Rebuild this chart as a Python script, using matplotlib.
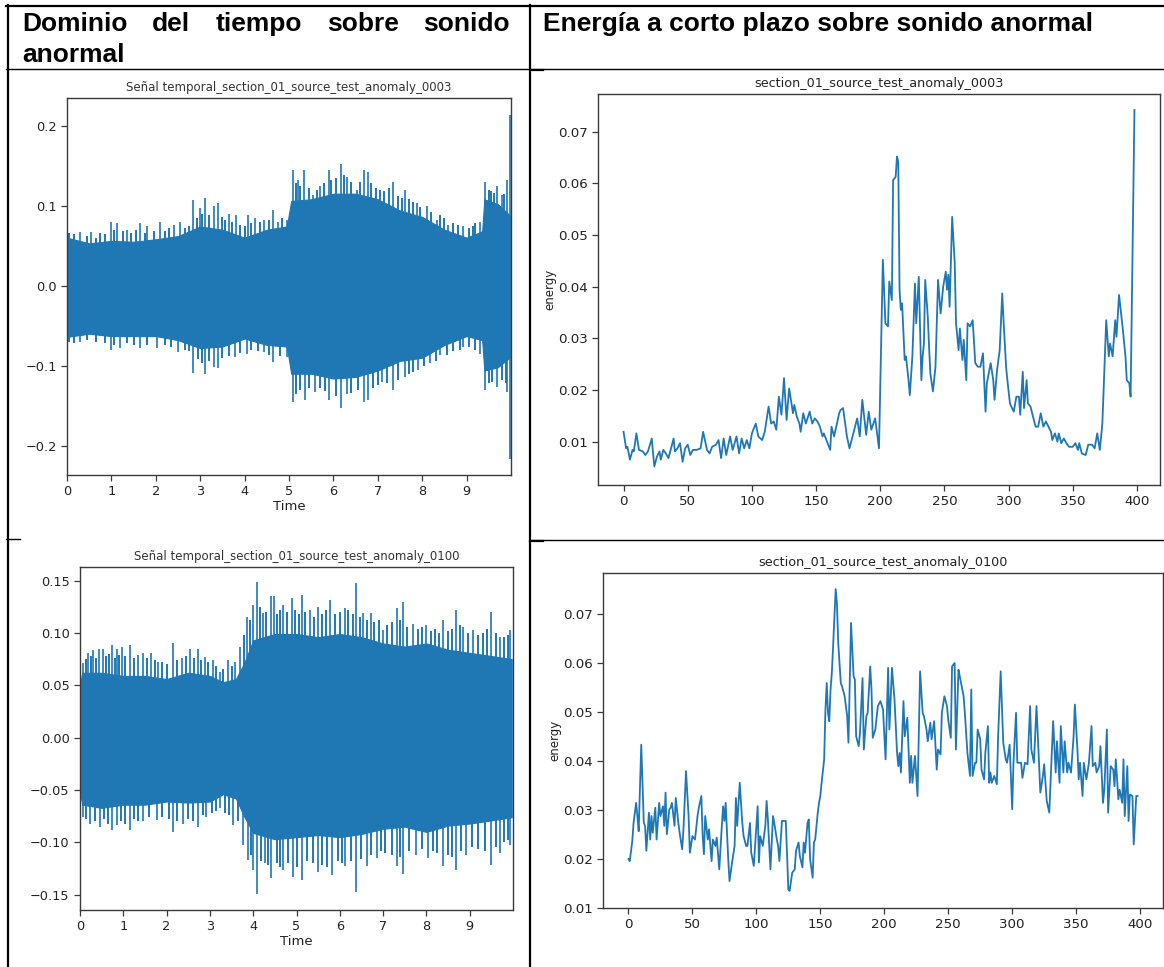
import matplotlib
matplotlib.use("Agg")
import matplotlib.pyplot as plt
from matplotlib.lines import Line2D

W, H = 1164, 967
BLUE = "#1f77b4"
SPINE = "#3a3a3a"

# ---------------- table headers ----------------
head_left_words = ["Dominio", "del", "tiempo", "sobre", "sonido"]
head_left_2 = "anormal"
head_right = "Energía a corto plazo sobre sonido anormal"

# ---------------- waveform 0003 ----------------
w1_title = "Señal temporal_section_01_source_test_anomaly_0003"
w1_env_t = [0, 0.5, 1, 1.5, 2, 2.5, 3, 3.5, 4, 4.5, 4.95, 5.05, 5.5, 6, 6.5, 7,
            7.5, 8, 8.5, 9, 9.35, 9.4, 9.7, 9.97]
w1_env_hi = [0.060, 0.053, 0.056, 0.055, 0.058, 0.062, 0.074, 0.070, 0.060, 0.070,
             0.074, 0.106, 0.108, 0.115, 0.115, 0.108, 0.094, 0.086, 0.070, 0.060,
             0.068, 0.108, 0.102, 0.088]
w1_env_lo = [-0.064, -0.060, -0.063, -0.063, -0.063, -0.068, -0.078, -0.076, -0.066,
             -0.074, -0.076, -0.110, -0.110, -0.116, -0.114, -0.106, -0.094, -0.090,
             -0.074, -0.063, -0.068, -0.106, -0.102, -0.090]
# tallest peaks
w1_up_t = [0.3, 0.53, 0.98, 1.13, 1.35, 1.64, 1.8, 2.09, 2.4, 2.55, 2.84, 3.0, 3.11,
           3.3, 3.41, 3.64, 3.81, 4.07, 4.24, 4.43, 4.65, 4.76, 4.95, 5.09, 5.21,
           5.34, 5.55, 5.69, 5.89, 6.17, 6.3, 6.53, 6.68, 6.79, 7.35, 7.61, 7.88,
           8.1, 8.33, 8.59, 8.93, 9.3, 9.41, 9.68, 9.79, 9.92, 9.97]
w1_up = [0.0675, 0.0675, 0.080, 0.078, 0.070, 0.078, 0.074, 0.080, 0.076, 0.080,
         0.107, 0.097, 0.109, 0.099, 0.103, 0.090, 0.088, 0.088, 0.084, 0.082,
         0.095, 0.080, 0.082, 0.145, 0.132, 0.145, 0.113, 0.124, 0.145, 0.152,
         0.136, 0.120, 0.145, 0.1425, 0.130, 0.120, 0.103, 0.100, 0.082, 0.076,
         0.074, 0.080, 0.130, 0.124, 0.113, 0.132, 0.213]
w1_dn_t = [0.3, 0.98, 1.2, 1.65, 2.03, 2.51, 2.84, 3.11, 3.3, 3.41, 3.79, 4.05, 4.43,
           4.65, 4.95, 5.09, 5.36, 5.59, 5.89, 6.17, 6.3, 6.68, 6.79, 7.09, 7.35,
           7.61, 7.91, 8.18, 8.4, 8.93, 9.3, 9.41, 9.68, 9.92, 9.97]
w1_dn = [-0.070, -0.080, -0.078, -0.078, -0.078, -0.0825, -0.109, -0.110, -0.101,
         -0.103, -0.089, -0.085, -0.0825, -0.095, -0.089, -0.145, -0.143, -0.1325,
         -0.143, -0.153, -0.135, -0.145, -0.143, -0.120, -0.130, -0.114, -0.105,
         -0.097, -0.087, -0.076, -0.085, -0.130, -0.126, -0.1325, -0.216]
# smaller peaks along the edge of the band
w1_up2_t = [0.05, 0.15, 0.45, 0.65, 0.75, 0.85, 1.05, 1.25, 1.45, 1.55, 1.75, 1.95,
            2.2, 2.3, 2.65, 2.75, 2.92, 3.05, 3.2, 3.5, 3.55, 3.72, 3.9, 4.0, 4.15,
            4.35, 4.55, 4.85, 5.15, 5.25, 5.45, 5.62, 5.78, 5.95, 6.05, 6.23, 6.4,
            6.6, 6.85, 6.95, 7.05, 7.15, 7.25, 7.45, 7.55, 7.7, 7.8, 7.95, 8.2, 8.4,
            8.5, 8.7, 8.8, 9.05, 9.15, 9.2, 9.5, 9.55, 9.62, 9.85]
w1_up2 = [0.066, 0.064, 0.062, 0.060, 0.066, 0.064, 0.070, 0.068, 0.066, 0.070,
          0.066, 0.068, 0.068, 0.072, 0.072, 0.074, 0.085, 0.090, 0.088, 0.086,
          0.082, 0.080, 0.076, 0.074, 0.078, 0.080, 0.082, 0.085, 0.128, 0.125,
          0.122, 0.120, 0.128, 0.132, 0.135, 0.138, 0.130, 0.130, 0.128, 0.122,
          0.120, 0.118, 0.122, 0.112, 0.110, 0.108, 0.104, 0.098, 0.092, 0.088,
          0.084, 0.078, 0.076, 0.072, 0.074, 0.078, 0.120, 0.118, 0.116, 0.115]
w1_dn2_t = [0.05, 0.15, 0.45, 0.65, 0.85, 1.05, 1.35, 1.5, 1.8, 2.2, 2.35, 2.65,
            2.75, 2.95, 3.05, 3.2, 3.5, 3.65, 3.9, 4.15, 4.3, 4.55, 4.8, 5.15, 5.25,
            5.45, 5.7, 5.8, 6.05, 6.4, 6.55, 6.9, 7.0, 7.2, 7.45, 7.7, 7.8, 8.05,
            8.3, 8.55, 8.7, 8.85, 9.05, 9.2, 9.5, 9.58, 9.8, 9.88]
w1_dn2 = [-0.070, -0.072, -0.068, -0.070, -0.072, -0.074, -0.072, -0.074, -0.074,
          -0.074, -0.076, -0.080, -0.082, -0.092, -0.096, -0.094, -0.090, -0.088,
          -0.084, -0.080, -0.082, -0.086, -0.088, -0.135, -0.130, -0.128, -0.128,
          -0.132, -0.138, -0.134, -0.130, -0.128, -0.124, -0.122, -0.118, -0.110,
          -0.108, -0.100, -0.094, -0.086, -0.082, -0.080, -0.076, -0.080, -0.122,
          -0.120, -0.118, -0.122]

# ---------------- waveform 0100 ----------------
w2_title = "Señal temporal_section_01_source_test_anomaly_0100"
w2_env_t = [0, 0.05, 0.5, 1, 1.5, 2, 2.5, 3, 3.3, 3.6, 3.8, 4, 4.5, 5, 5.5, 6, 6.5,
            7, 7.5, 8, 8.5, 9, 9.5, 9.97]
w2_env_hi = [0.050, 0.062, 0.062, 0.059, 0.059, 0.056, 0.062, 0.059, 0.053, 0.056,
             0.072, 0.093, 0.099, 0.099, 0.096, 0.099, 0.096, 0.090, 0.087, 0.090,
             0.084, 0.081, 0.078, 0.075]
w2_env_lo = [-0.051, -0.064, -0.067, -0.064, -0.064, -0.061, -0.062, -0.061, -0.054,
             -0.058, -0.076, -0.091, -0.097, -0.095, -0.093, -0.095, -0.092, -0.087,
             -0.085, -0.090, -0.084, -0.082, -0.079, -0.076]
w2_up_t = [0.08, 0.19, 0.31, 0.45, 0.54, 0.73, 0.85, 0.96, 1.15, 1.35, 1.46, 1.65,
           1.81, 2.15, 2.35, 2.54, 2.73, 2.88, 3.08, 3.23, 3.42, 3.58, 3.69, 3.86,
           4.0, 4.09, 4.23, 4.4, 4.48, 4.69, 4.89, 5.12, 5.31, 5.5, 5.77, 6.12,
           6.38, 6.54, 6.73, 7.0, 7.31, 7.46, 7.69, 8.0, 8.38, 8.69, 8.85, 9.08,
           9.5, 9.69, 9.92]
w2_up = [0.071, 0.081, 0.084, 0.085, 0.085, 0.0885, 0.085, 0.087, 0.0885, 0.079,
         0.081, 0.081, 0.0726, 0.090, 0.076, 0.085, 0.085, 0.077, 0.074, 0.063,
         0.074, 0.0726, 0.087, 0.1156, 0.127, 0.149, 0.119, 0.135, 0.135, 0.127,
         0.133, 0.136, 0.122, 0.125, 0.1315, 0.1236, 0.1475, 0.119, 0.119, 0.103,
         0.1236, 0.130, 0.109, 0.1076, 0.1124, 0.122, 0.106, 0.103, 0.120, 0.0965,
         0.103]
w2_dn_t = [0.08, 0.23, 0.46, 0.73, 0.85, 1.15, 1.46, 1.77, 2.15, 2.38, 2.73, 2.92,
           3.23, 3.54, 3.77, 3.88, 4.0, 4.09, 4.27, 4.42, 4.69, 4.91, 5.12, 5.5,
           5.81, 6.12, 6.38, 6.62, 6.85, 7.31, 7.46, 7.77, 8.04, 8.38, 8.69, 8.92,
           9.5, 9.69, 9.92]
w2_dn = [-0.0755, -0.082, -0.085, -0.088, -0.083, -0.088, -0.080, -0.079, -0.090,
         -0.082, -0.085, -0.0755, -0.0675, -0.0834, -0.1025, -0.117, -0.126, -0.149,
         -0.120, -0.134, -0.126, -0.133, -0.136, -0.128, -0.131, -0.123, -0.147,
         -0.123, -0.115, -0.123, -0.130, -0.112, -0.115, -0.123, -0.126, -0.112,
         -0.1217, -0.1105, -0.1025]
w2_up2_t = [0.15, 0.25, 0.38, 0.6, 0.67, 0.8, 0.9, 1.05, 1.25, 1.55, 1.73, 1.9, 2.0,
            2.25, 2.45, 2.63, 2.8, 2.95, 3.15, 3.3, 3.5, 3.78, 3.93, 4.16, 4.3, 4.55,
            4.62, 4.78, 4.96, 5.05, 5.2, 5.4, 5.6, 5.68, 5.88, 6.0, 6.2, 6.3, 6.47,
            6.62, 6.8, 6.9, 7.1, 7.2, 7.38, 7.55, 7.8, 7.9, 8.1, 8.2, 8.3, 8.5, 8.6,
            8.78, 8.95, 9.2, 9.3, 9.4, 9.6, 9.8, 9.88]
w2_up2 = [0.075, 0.078, 0.076, 0.078, 0.080, 0.076, 0.079, 0.078, 0.076, 0.076,
          0.074, 0.072, 0.070, 0.074, 0.078, 0.076, 0.074, 0.072, 0.068, 0.066,
          0.068, 0.098, 0.112, 0.125, 0.120, 0.118, 0.122, 0.120, 0.122, 0.118,
          0.120, 0.115, 0.118, 0.122, 0.118, 0.120, 0.122, 0.118, 0.115, 0.112,
          0.110, 0.112, 0.108, 0.110, 0.112, 0.106, 0.104, 0.106, 0.102, 0.104,
          0.100, 0.102, 0.104, 0.108, 0.100, 0.098, 0.100, 0.104, 0.100, 0.096,
          0.098]
w2_dn2_t = [0.15, 0.35, 0.55, 0.65, 0.95, 1.05, 1.25, 1.35, 1.6, 1.9, 2.05, 2.25,
            2.5, 2.62, 2.85, 3.05, 3.15, 3.35, 3.45, 3.65, 3.95, 4.18, 4.35, 4.55,
            4.62, 4.8, 5.0, 5.25, 5.38, 5.6, 5.7, 5.95, 6.05, 6.25, 6.5, 6.72, 6.95,
            7.05, 7.2, 7.38, 7.6, 7.9, 8.15, 8.25, 8.5, 8.6, 8.8, 9.05, 9.2, 9.35,
            9.6, 9.8, 9.88]
w2_dn2 = [-0.078, -0.080, -0.078, -0.082, -0.080, -0.082, -0.078, -0.080, -0.076,
          -0.076, -0.078, -0.080, -0.078, -0.080, -0.074, -0.072, -0.070, -0.072,
          -0.074, -0.080, -0.112, -0.118, -0.122, -0.120, -0.124, -0.120, -0.124,
          -0.118, -0.120, -0.122, -0.124, -0.118, -0.120, -0.118, -0.116, -0.112,
          -0.108, -0.110, -0.112, -0.114, -0.108, -0.106, -0.108, -0.110, -0.112,
          -0.114, -0.108, -0.104, -0.106, -0.108, -0.104, -0.100, -0.098]

# ---------------- short-time energy 0003 ----------------
e1_title = "section_01_source_test_anomaly_0003"
e1_x = [0, 2, 3, 5, 7, 8, 10, 12, 15, 17, 19, 22, 23, 24, 26, 28, 29, 31, 33, 35,
        39, 40, 42, 44, 46, 48, 50, 52, 54, 57, 60, 62, 65, 67, 69, 72, 74, 76, 78,
        80, 83, 85, 88, 90, 92, 94, 96, 98, 100, 103, 105, 108, 110, 113, 115, 117,
        119, 121, 123, 125, 127, 129, 132, 133, 135, 137, 138, 140, 142, 145, 147,
        149, 151, 153, 155, 156, 158, 161, 162, 164, 168, 169, 171, 174, 176, 179,
        182, 184, 186, 189, 191, 193, 196, 199,
        202, 204, 206, 207, 209, 210, 212, 213, 214, 215, 216, 217, 219, 220, 222,
        223, 225, 227, 228, 230, 231, 232, 233, 234, 235, 237, 238, 239, 241, 243,
        245, 247, 249, 251, 252, 253, 254, 256, 258, 259, 261, 262, 264, 265, 267,
        268, 270, 272, 274, 276, 278, 280, 282, 283, 286, 288, 289, 291, 293, 295,
        296, 298, 299, 301, 302, 304, 306, 308, 309, 311, 312, 314, 315, 317, 319,
        321, 323, 325, 327, 329, 331, 333, 334, 336, 338, 339, 341, 343, 345, 347,
        350, 352, 354, 355, 357, 360, 362, 365, 367, 369, 371, 373, 376, 378, 379,
        381, 383, 384, 386, 389, 391, 392, 394, 395, 398]
e1_y = [0.0119, 0.0087, 0.0090, 0.0065, 0.0084, 0.0081, 0.0116, 0.0084, 0.0081,
        0.0074, 0.0081, 0.0106, 0.0077, 0.0052, 0.0071, 0.0081, 0.0065, 0.0084,
        0.0077, 0.0068, 0.0106, 0.0081, 0.0087, 0.0097, 0.0061, 0.0087, 0.0094,
        0.0074, 0.0084, 0.0084, 0.0087, 0.0119, 0.0084, 0.0077, 0.0090, 0.0094,
        0.0103, 0.0068, 0.0106, 0.0074, 0.0110, 0.0084, 0.0110, 0.0077, 0.0106,
        0.0087, 0.0103, 0.0087, 0.0116, 0.0135, 0.0110, 0.0103, 0.0119, 0.0168,
        0.0135, 0.0139, 0.0123, 0.0187, 0.0152, 0.0223, 0.0142, 0.0203, 0.0155,
        0.0171, 0.0148, 0.0135, 0.0119, 0.0155, 0.0135, 0.0158, 0.0135, 0.0145,
        0.0139, 0.0129, 0.0110, 0.0116, 0.0103, 0.0084, 0.0129, 0.0110, 0.0155,
        0.0161, 0.0165, 0.0110, 0.0087, 0.0116, 0.0145, 0.0110, 0.0181, 0.0113,
        0.0158, 0.0123, 0.0145, 0.0087,
        0.0452, 0.0329, 0.0323, 0.0410, 0.0374, 0.0606, 0.0613, 0.0652, 0.0642,
        0.0394, 0.0355, 0.0368, 0.0258, 0.0265, 0.0219, 0.0190, 0.0265, 0.0406,
        0.0329, 0.0419, 0.0319, 0.0219, 0.0265, 0.0290, 0.0413, 0.0342, 0.0284,
        0.0232, 0.0197, 0.0245, 0.0413, 0.0348, 0.0400, 0.0429, 0.0394, 0.0423,
        0.0361, 0.0535, 0.0445, 0.0329, 0.0277, 0.0319, 0.0258, 0.0297, 0.0219,
        0.0329, 0.0323, 0.0335, 0.0252, 0.0245, 0.0245, 0.0271, 0.0158, 0.0213,
        0.0252, 0.0219, 0.0181, 0.0239, 0.0277, 0.0387, 0.0335, 0.0245, 0.0219,
        0.0174, 0.0168, 0.0158, 0.0187, 0.0187, 0.0152, 0.0235, 0.0165, 0.0219,
        0.0174, 0.0168, 0.0148, 0.0129, 0.0129, 0.0155, 0.0129, 0.0139, 0.0129,
        0.0119, 0.0103, 0.0116, 0.0100, 0.0116, 0.0097, 0.0106, 0.0097, 0.0090,
        0.0090, 0.0097, 0.0084, 0.0097, 0.0077, 0.0074, 0.0094, 0.0094, 0.0087,
        0.0116, 0.0084, 0.0135, 0.0335, 0.0265, 0.0290, 0.0265, 0.0335, 0.0303,
        0.0384, 0.0316, 0.0265, 0.0219, 0.0213, 0.0187, 0.0742]

# ---------------- short-time energy 0100 ----------------
e2_title = "section_01_source_test_anomaly_0100"
e2_x = [0, 1, 3, 4, 6, 7, 8, 10, 12, 13, 14, 16, 17, 18, 19, 21, 22, 24, 25, 27,
        28, 29, 30, 32, 33, 34, 36, 37, 39, 40, 42, 43, 45, 47, 48, 50, 52, 54, 55,
        57, 58, 59, 60, 62, 63, 65, 66, 68, 69, 71, 73, 74, 75, 76, 78, 79, 81, 83,
        84, 85, 87, 89, 90, 92, 93, 95, 96, 98, 100, 101, 102, 103, 105, 107, 108,
        109, 111, 113, 114, 116, 117, 118, 120, 121, 123, 125, 126, 128, 130, 131,
        133, 134, 136, 137, 138, 140, 141, 142, 144, 145, 146, 148, 149, 150, 151,
        153, 154, 155, 156, 157, 158, 159, 160, 162, 163, 164, 166, 167, 169, 171,
        172, 174, 176, 177, 178, 180, 181, 183, 184, 186, 187, 189, 190, 191, 193,
        195, 197, 199, 201, 203, 204, 206, 208, 210, 211, 212, 213, 215, 216, 218,
        220, 221, 222, 224, 226, 228, 230, 231, 233, 234, 236, 237, 239, 241, 242,
        244, 245, 247, 249, 250, 252, 253, 255, 256, 258, 259, 262, 263, 265, 267,
        268, 269, 271, 272, 273, 275, 276, 278, 279, 281, 282, 283, 284, 286, 288,
        289, 291, 293, 295, 296, 298, 300, 301, 303, 304, 307, 308, 310, 312, 314,
        315, 317, 319, 321, 322, 324, 325, 327, 329, 330, 332, 334, 335, 337, 338,
        340, 341, 343, 344, 346, 348, 349, 351, 352, 353, 355, 356, 358, 360, 362,
        363, 365, 366, 368, 369, 371, 372, 374, 375, 377, 379, 380, 381, 383, 384,
        386, 387, 388, 390, 391, 392, 394, 395, 397, 398]
e2_y = [0.0199, 0.0195, 0.0236, 0.0273, 0.0314, 0.0287, 0.0256, 0.0433, 0.0273,
        0.0267, 0.0216, 0.0294, 0.0239, 0.0287, 0.0253, 0.0304, 0.0239, 0.0314,
        0.0287, 0.0307, 0.0267, 0.0335, 0.0250, 0.0301, 0.0304, 0.0314, 0.0267,
        0.0324, 0.0273, 0.0253, 0.0219, 0.0260, 0.0379, 0.0287, 0.0212, 0.0246,
        0.0239, 0.0287, 0.0304, 0.0328, 0.0246, 0.0209, 0.0287, 0.0239, 0.0260,
        0.0195, 0.0239, 0.0226, 0.0243, 0.0178, 0.0267, 0.0307, 0.0277, 0.0314,
        0.0199, 0.0154, 0.0192, 0.0226, 0.0324, 0.0267, 0.0355, 0.0273, 0.0246,
        0.0226, 0.0226, 0.0273, 0.0212, 0.0185, 0.0267, 0.0307, 0.0192, 0.0246,
        0.0226, 0.0267, 0.0318, 0.0280, 0.0178, 0.0287, 0.0273, 0.0239, 0.0226,
        0.0195, 0.0277, 0.0277, 0.0277, 0.0137, 0.0134, 0.0171, 0.0178, 0.0216,
        0.0233, 0.0205, 0.0182, 0.0233, 0.0212, 0.0273, 0.0280, 0.0199, 0.0161,
        0.0233, 0.0239, 0.0294, 0.0314, 0.0328, 0.0355, 0.0403, 0.0505, 0.0559,
        0.0498, 0.0481, 0.0546, 0.0580, 0.0634, 0.0751, 0.0722, 0.0641, 0.0559,
        0.0552, 0.0532, 0.0491, 0.0437, 0.0682, 0.0573, 0.0566, 0.0450, 0.0430,
        0.0457, 0.0569, 0.0423, 0.0491, 0.0498, 0.0593, 0.0546, 0.0447, 0.0464,
        0.0512, 0.0522, 0.0505, 0.0403, 0.0590, 0.0464, 0.0590, 0.0525, 0.0416,
        0.0389, 0.0416, 0.0376, 0.0522, 0.0450, 0.0488, 0.0355, 0.0410, 0.0355,
        0.0410, 0.0328, 0.0583, 0.0498, 0.0491, 0.0464, 0.0440, 0.0478, 0.0444,
        0.0481, 0.0382, 0.0423, 0.0413, 0.0498, 0.0532, 0.0512, 0.0484, 0.0447,
        0.0593, 0.0600, 0.0423, 0.0586, 0.0573, 0.0532, 0.0498, 0.0416, 0.0369,
        0.0546, 0.0369, 0.0396, 0.0396, 0.0464, 0.0444, 0.0382, 0.0362, 0.0416,
        0.0471, 0.0355, 0.0376, 0.0355, 0.0369, 0.0352, 0.0450, 0.0583, 0.0437,
        0.0403, 0.0396, 0.0433, 0.0301, 0.0396, 0.0498, 0.0396, 0.0396, 0.0365,
        0.0396, 0.0393, 0.0512, 0.0423, 0.0396, 0.0512, 0.0396, 0.0335, 0.0369,
        0.0393, 0.0318, 0.0294, 0.0355, 0.0481, 0.0376, 0.0440, 0.0355, 0.0471,
        0.0376, 0.0440, 0.0376, 0.0396, 0.0376, 0.0450, 0.0515, 0.0423, 0.0362,
        0.0396, 0.0328, 0.0396, 0.0362, 0.0396, 0.0471, 0.0389, 0.0396, 0.0376,
        0.0389, 0.0430, 0.0314, 0.0341, 0.0464, 0.0294, 0.0389, 0.0382, 0.0348,
        0.0403, 0.0321, 0.0341, 0.0314, 0.0403, 0.0287, 0.0389, 0.0277, 0.0331,
        0.0328, 0.0229, 0.0328, 0.0328]


def px_rect(x0, y0, x1, y1):
    # pixel box (top-left origin) -> figure fraction rect
    return [x0 / W, 1 - y1 / H, (x1 - x0) / W, (y1 - y0) / H]


def style_axes(ax):
    for s in ax.spines.values():
        s.set_color(SPINE)
        s.set_linewidth(1.0)
    ax.tick_params(colors=SPINE, labelcolor="#222222", length=4, width=0.9)


def waveform(ax, title, env, peaks, small, yticks, ylim):
    env_t, env_hi, env_lo = env
    ax.fill_between(env_t, env_lo, env_hi, color=BLUE, lw=0.8, edgecolor=BLUE)
    for t, v in (small[:2], small[2:]):
        ax.vlines(t, 0, v, color=BLUE, lw=1.4)
    for t, v in (peaks[:2], peaks[2:]):
        ax.vlines(t, 0, v, color=BLUE, lw=1.2)
    ax.set_xlim(0, 10)
    ax.set_xticks(range(10))
    ax.set_yticks(yticks)
    ax.set_ylim(*ylim)
    ax.set_xlabel("Time", fontsize=9.5, labelpad=1, color="#222222")
    ax.set_title(title, fontsize=8.5, color="#333333", pad=5)
    ax.tick_params(labelsize=9.3)
    style_axes(ax)


def energy(ax, title, x, y, ylim):
    ax.plot(x, y, color=BLUE, lw=1.3)
    ax.set_xlim(-19.9, 417.9)
    ax.set_ylim(*ylim)
    ax.set_xticks(range(0, 401, 50))
    ax.set_yticks([0.01, 0.02, 0.03, 0.04, 0.05, 0.06, 0.07])
    ax.set_ylabel("energy", fontsize=8.5, color="#222222", labelpad=1)
    ax.set_title(title, fontsize=9.2, color="#222222", pad=5)
    style_axes(ax)
    ax.tick_params(labelsize=9.6)


fig = plt.figure(figsize=(W / 100, H / 100), dpi=100)
fig.patch.set_facecolor("white")

ax1 = fig.add_axes(px_rect(67, 98, 511, 475))
waveform(ax1, w1_title, (w1_env_t, w1_env_hi, w1_env_lo),
         (w1_up_t, w1_up, w1_dn_t, w1_dn), (w1_up2_t, w1_up2, w1_dn2_t, w1_dn2),
         [-0.2, -0.1, 0.0, 0.1, 0.2], (-0.2366, 0.2346))

ax2 = fig.add_axes(px_rect(80, 567, 513, 910))
waveform(ax2, w2_title, (w2_env_t, w2_env_hi, w2_env_lo),
         (w2_up_t, w2_up, w2_dn_t, w2_dn), (w2_up2_t, w2_up2, w2_dn2_t, w2_dn2),
         [-0.15, -0.10, -0.05, 0.0, 0.05, 0.10, 0.15], (-0.1646, 0.163))

ax3 = fig.add_axes(px_rect(598, 94, 1160, 485))
energy(ax3, e1_title, e1_x, e1_y, (0.0016, 0.0773))

ax4 = fig.add_axes(px_rect(603, 573, 1163, 908))
energy(ax4, e2_title, e2_x, e2_y, (0.0099, 0.0784))

# ---- table grid ----
def hline(y, x0, x1, lw):
    fig.add_artist(Line2D([x0 / W, x1 / W], [1 - y / H, 1 - y / H], color="black", lw=lw))


def vline(x, y0, y1, lw):
    fig.add_artist(Line2D([x / W, x / W], [1 - y0 / H, 1 - y1 / H], color="black", lw=lw))


hline(6, 6, W, 1.6)
hline(69, 6, W, 1.0)
hline(539, 6, 20, 1.0)
hline(540, 530, W, 1.0)
hline(70, 530, 543, 1.6)
hline(540.5, 530, 543, 1.6)
vline(7.5, 5, H, 1.6)
vline(530, 5, H, 1.6)

# ---- header text (left cell justified) ----
hdr = dict(fontsize=19, fontweight="bold", family="Liberation Sans", color="black")
renderer = fig.canvas.get_renderer()
texts = [fig.text(0, 1 - 31 / H, w, va="baseline", ha="left", **hdr) for w in head_left_words]
widths = [t.get_window_extent(renderer).width for t in texts]
x_left, x_right = 22, 510
gap = (x_right - x_left - sum(widths)) / (len(texts) - 1)
xpos = x_left
for t, w in zip(texts, widths):
    t.set_x(xpos / W)
    xpos += w + gap
fig.text(22 / W, 1 - 62 / H, head_left_2, va="baseline", ha="left", **hdr)
fig.text(543 / W, 1 - 31 / H, head_right, va="baseline", ha="left", **hdr)

fig.savefig("out.png", dpi=100, facecolor="white")
